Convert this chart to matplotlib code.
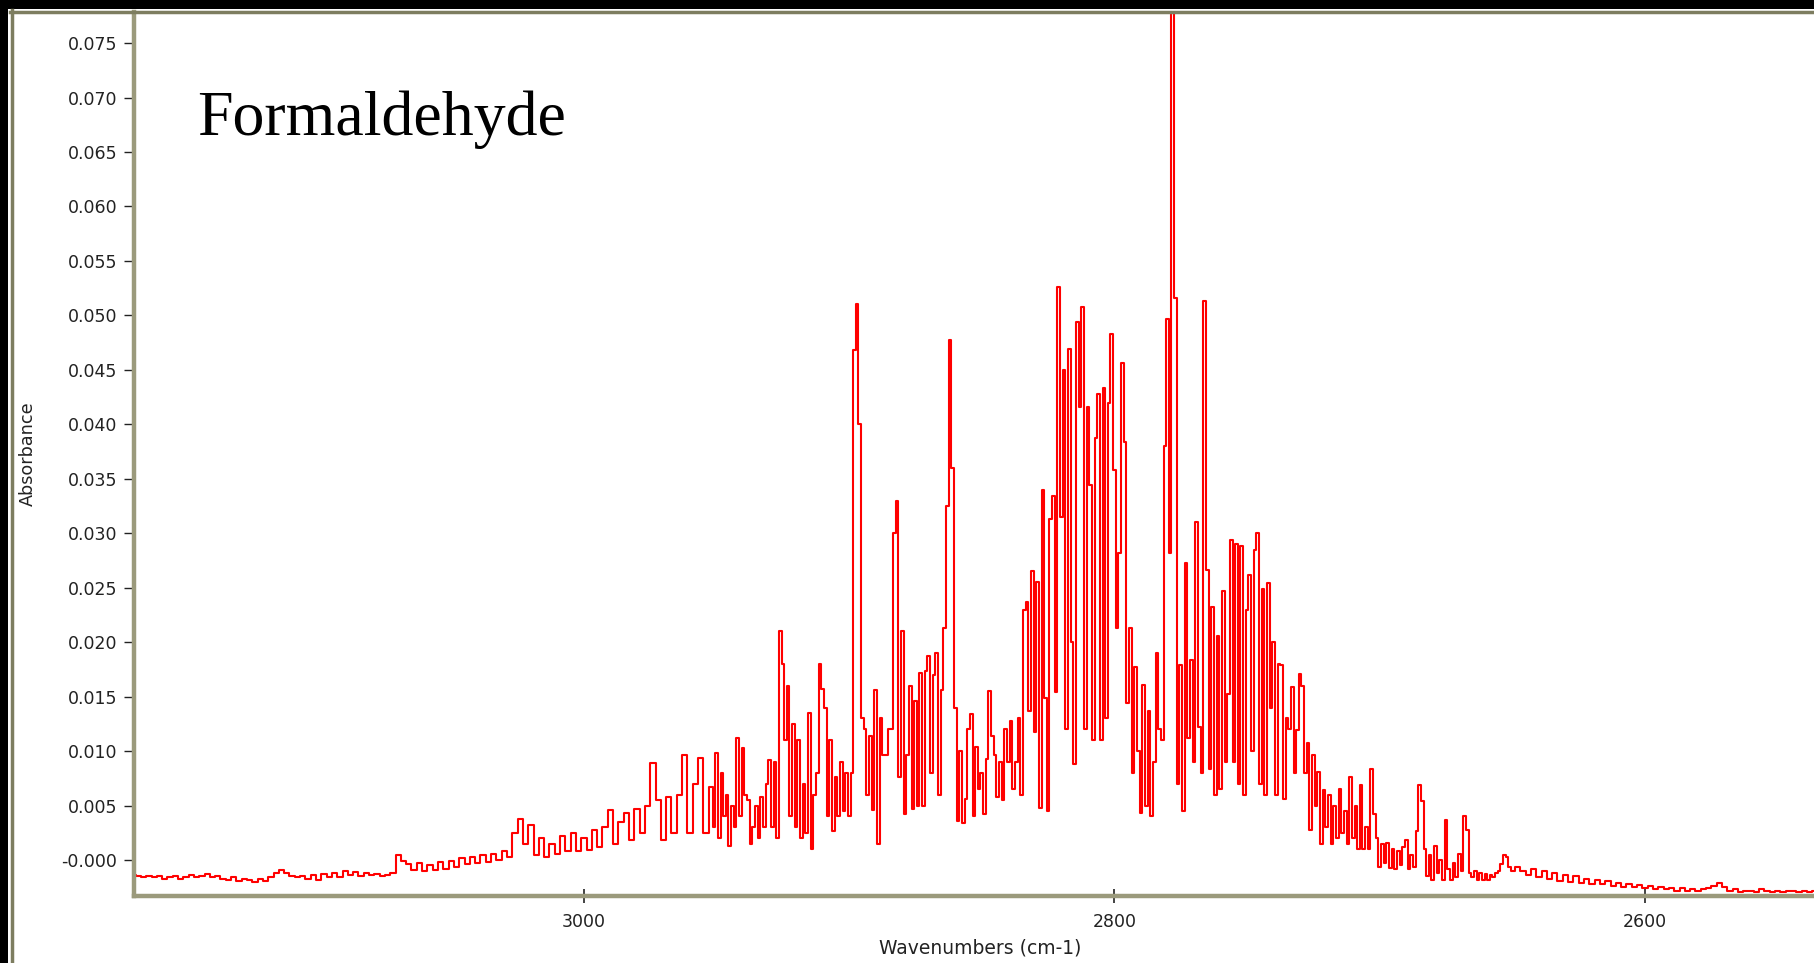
import numpy as np
import matplotlib
matplotlib.use('Agg')
import matplotlib.pyplot as plt
from matplotlib.patches import Rectangle
from matplotlib.lines import Line2D
from matplotlib.ticker import MultipleLocator, FuncFormatter

# absorbance, in units of 1e-3
# left wing: 3170 -> 2952 cm-1, every 2 cm-1
abs_left = [
    -1.4, -1.5, -1.6, -1.5, -1.6, -1.5, -1.7, -1.6, -1.5, -1.7,
    -1.6, -1.4, -1.6, -1.5, -1.3, -1.6, -1.5, -1.7, -1.8, -1.6,
    -1.9, -1.7, -1.8, -2.0, -1.7, -1.9,
    -1.6, -1.2, -0.9, -1.2, -1.5, -1.6, -1.5, -1.7, -1.4, -1.8,
    -1.3, -1.6, -1.2, -1.6, -1.0, -1.4, -1.1, -1.5, -1.2, -1.4,
    -1.3, -1.5, -1.4, -1.2,
    0.5, -0.1, -0.4, -0.9, -0.3, -1.0, -0.5, -0.9, -0.2, -0.8,
    -0.1, -0.6, 0.2, -0.4, 0.3, -0.3, 0.5, -0.2, 0.6, 0.0,
    0.8, 0.3, 2.5, 3.8, 1.5, 3.2, 0.5, 2.0, 0.3, 1.5,
    0.6, 2.2, 0.8, 2.5, 0.8, 2.0, 0.9, 2.8, 1.2, 3.0,
    4.6, 1.5, 3.5, 4.3, 1.8, 4.7, 2.5, 5.0, 8.9, 5.5,
    1.8, 5.8, 2.5, 6.0, 9.6, 2.5, 7.0, 9.4, 2.5, 6.7,
]

# band centre: 2951 -> 2650 cm-1, every 1 cm-1
abs_core = [
    3, 9.8, 2, 8, 4, 6, 1.3, 5, 3, 11.2,            # 2951
    4, 10.3, 6, 5.5, 1.5, 3, 5, 2, 5.8, 3,          # 2941
    7, 9.2, 3, 9, 2, 21, 18, 11, 16, 4,             # 2931
    12.5, 3, 11, 2, 7, 2.5, 13.5, 1, 6, 8,          # 2921
    18, 15.7, 14, 4, 11, 2.7, 7.6, 4, 9, 4.5,       # 2911
    8, 4, 8, 46.8, 51, 40, 13, 12, 6, 11.4,         # 2901
    4.6, 15.6, 1.5, 13, 9.6, 9.6, 12, 12, 30, 33,   # 2891
    7.6, 21, 4.2, 9.6, 16, 4.7, 14.6, 5, 17.2, 5,   # 2881
    17.4, 18.7, 8, 17, 19, 6, 15.6, 21.3, 32.5, 47.7,  # 2871
    36, 14, 3.6, 10, 3.4, 5.6, 12, 13.4, 4, 10.4,   # 2861
    6.5, 8, 4.2, 9.3, 15.5, 11.4, 9.6, 5.8, 9, 5.5,  # 2851
    12, 9, 12.8, 6.5, 9, 13, 6, 23, 23.7, 13.7,     # 2841
    26.5, 11.8, 25.5, 4.8, 34, 14.9, 4.5, 31.3, 33.4, 15.4,  # 2831
    52.6, 31.5, 45, 12, 46.9, 20, 8.8, 49.4, 41.6, 50.8,     # 2821
    12, 41.6, 34.4, 11, 38.7, 42.8, 11, 43.3, 13, 42,        # 2811
    48.3, 35.8, 21.3, 28.2, 45.6, 38.4, 14.4, 21.3, 8, 17.7, # 2801
    10, 4.3, 16.1, 5, 13.7, 4, 9, 19, 12, 11,                # 2791
    38, 49.7, 28.2, 80, 51.6, 7, 17.9, 4.5, 27.3, 11.2,      # 2781
    18.4, 9, 31, 12.2, 8, 51.3, 26.6, 8.4, 23.2, 6,          # 2771
    20.6, 6.5, 24.7, 9, 15.2, 29.4, 9, 29, 7, 28.8,          # 2761
    6, 23, 26.2, 10, 28.5, 30, 7, 24.9, 6, 25.4,             # 2751
    14, 20, 6, 18, 17.9, 5.6,                                # 2741
    13, 12, 15.9, 8, 11.9, 17.1, 16, 8, 10.7, 2.8,           # 2735
    9.6, 5, 8.1, 1.5, 6.4, 3, 6, 1.5, 5, 2,                  # 2725
    6.5, 2.5, 4.5, 1.5, 7.6, 2, 5, 1, 6.9, 1,                # 2715
    3, 1, 8.4, 4.2, 2, -0.6, 1.5, -0.3, 1.6, -0.7,           # 2705
    1, -0.8, 0.8, -0.5, 1.2, 1.8, -0.8, 0.5, -0.6, 2.7,      # 2695
    6.9, 5.4, 1, -1.5, 0.5, -1.8, 1.3, -1.2, 0, -1.8,        # 2685
    3.7, -0.8, -1.8, -0.3, -1.6, 0.6, -1, 4.0, 2.8, -1.2,    # 2675
    -1.6, -1, -1.8, -1.2, -1.8, -1.3, -1.8, -1.4, -1.6, -1.2,  # 2665
    -1.0, -0.4, 0.5, 0.3, -0.6, -1.0,                        # 2655
]

# right wing: 2648 -> 2536 cm-1, every 2 cm-1
abs_right = [
    -0.6, -1.0, -1.4, -0.8, -1.6, -1.0, -1.7, -1.2, -1.9, -1.4,
    -2.0, -1.5, -2.1, -1.7, -2.2, -1.8, -2.2, -1.9, -2.4, -2.1,
    -2.5, -2.2, -2.5, -2.3, -2.6, -2.4, -2.7, -2.5, -2.7, -2.6,
    -2.8, -2.6, -2.8, -2.7, -2.8, -2.7, -2.6, -2.4, -2.1, -2.5,
    -2.8, -2.7, -2.9, -2.8, -2.8, -2.9, -2.7, -2.8, -2.9, -2.8,
    -2.9, -2.8, -2.8, -2.9, -2.8, -2.9, -2.8,
]

wn_left = 3170 - 2 * np.arange(len(abs_left))
wn_core = 2951 - np.arange(len(abs_core))
wn_right = 2648 - 2 * np.arange(len(abs_right))

wn = np.concatenate([wn_left, wn_core, wn_right])
absorb = np.concatenate([abs_left, abs_core, abs_right]) / 1000.0

W, H = 1814, 963
spine_col = '#9b9a7c'
tick_col = '#222222'

fig = plt.figure(figsize=(W / 100, H / 100), dpi=100, facecolor='white')
ax = fig.add_axes([134 / W, (H - 896) / H, (W - 134) / W, (896 - 12) / H])

ax.plot(wn, absorb, color='red', lw=1.5, drawstyle='steps-mid')

ax.set_xlim(3169.6, 2536.3)
ax.set_ylim(-0.0033, 0.07785)

for s in ['top', 'right']:
    ax.spines[s].set_visible(False)
for s in ['left', 'bottom']:
    ax.spines[s].set_color(spine_col)
    ax.spines[s].set_linewidth(3.2)

ax.xaxis.set_major_locator(MultipleLocator(200))
ax.xaxis.set_minor_locator(MultipleLocator(50))
ax.yaxis.set_major_locator(MultipleLocator(0.005))
ax.yaxis.set_minor_locator(MultipleLocator(0.00125))
ax.yaxis.set_major_formatter(
    FuncFormatter(lambda v, p: '-0.000' if abs(v) < 1e-9 else '%.3f' % v))

ax.tick_params(axis='y', which='major', direction='out', length=7, width=1,
               color=tick_col, labelsize=12.5, labelcolor=tick_col, pad=5)
ax.tick_params(axis='y', which='minor', direction='inout', length=3, width=1.5,
               color=tick_col)
ax.tick_params(axis='x', which='major', direction='inout', length=10, width=1.2,
               color=tick_col, labelsize=12.5, labelcolor=tick_col, pad=7)
ax.tick_params(axis='x', which='minor', direction='inout', length=3, width=1.5,
               color=tick_col)

fig.text(197 / W, 1 - 135 / H, 'Formaldehyde', family='Liberation Serif',
         fontsize=46, ha='left', va='baseline', color='black')
fig.text(28 / W, 1 - 454 / H, 'Absorbance', rotation=90, ha='center',
         va='center', fontsize=12.7, color=tick_col)
fig.text(980 / W, 1 - 948 / H, 'Wavenumbers (cm-1)', ha='center',
         va='center', fontsize=13.5, color=tick_col)

# window frame: black border top/left, olive inner line
fig.add_artist(Rectangle((0, 1 - 9 / H), 1, 9 / H, transform=fig.transFigure,
                         facecolor='black', edgecolor='none'))
fig.add_artist(Rectangle((0, 0), 8 / W, 1, transform=fig.transFigure,
                         facecolor='black', edgecolor='none'))
fig.add_artist(Line2D([10 / W, 1], [1 - 12 / H, 1 - 12 / H],
                      transform=fig.transFigure, color='#7d7d60', lw=2.5))
fig.add_artist(Line2D([11.5 / W, 11.5 / W], [0, 1 - 10 / H],
                      transform=fig.transFigure, color='#7d7d60', lw=2.5))

fig.savefig('out.png', dpi=100, facecolor='white')
